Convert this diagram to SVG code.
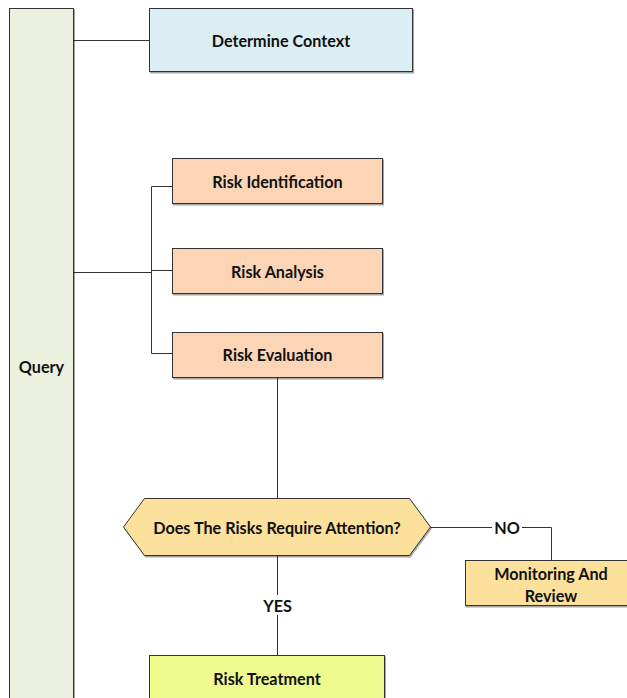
<svg xmlns="http://www.w3.org/2000/svg" width="627" height="698" viewBox="0 0 627 698">
<style>
text{font-family:"Lato","Liberation Sans",sans-serif;font-weight:bold;font-size:16.2px;fill:#111;text-anchor:middle;dominant-baseline:central}
.box{stroke:#333;stroke-width:1}
.conn{fill:none;stroke:#333;stroke-width:1}
.lbl{fill:#fff}
</style>
<defs>
<filter id="sh" x="-5%" y="-5%" width="110%" height="120%">
<feDropShadow dx="1" dy="1.5" stdDeviation="0.6" flood-color="#000" flood-opacity="0.35"/>
</filter>
</defs>
<rect width="627" height="698" fill="#fff"/>
<g id="connectors">
<path class="conn" d="M73.5 40.5H149"/>
<path class="conn" d="M73.5 272.5H151.5"/>
<path class="conn" d="M172 186.5H151.5V353.5H172M151.5 270.5H172"/>
<path class="conn" d="M277.5 377V498"/>
<path class="conn" d="M430 527.5H551.5V560"/>
<path class="conn" d="M277.5 555V655"/>
<rect class="lbl" x="492" y="518" width="30" height="18"/>
<text x="507" y="527">NO</text>
<rect class="lbl" x="260" y="595" width="35" height="20"/>
<text x="277.5" y="605">YES</text>
</g>
<g id="query">
<rect class="box" x="9.5" y="8.5" width="64" height="700" fill="#EBF1DE" filter="url(#sh)"/>
<text x="41.5" y="366">Query</text>
</g>
<g id="determine-context">
<rect class="box" x="149.5" y="8.5" width="263" height="63" fill="#DAEEF3" filter="url(#sh)"/>
<text x="281" y="40">Determine Context</text>
</g>
<g id="risk-identification">
<rect class="box" x="172.5" y="158.5" width="210" height="45" fill="#FBD5B5" filter="url(#sh)"/>
<text x="277.5" y="181">Risk Identification</text>
</g>
<g id="risk-analysis">
<rect class="box" x="172.5" y="248.5" width="210" height="45" fill="#FBD5B5" filter="url(#sh)"/>
<text x="277.5" y="271">Risk Analysis</text>
</g>
<g id="risk-evaluation">
<rect class="box" x="172.5" y="332.5" width="210" height="45" fill="#FBD5B5" filter="url(#sh)"/>
<text x="277.5" y="354">Risk Evaluation</text>
</g>
<g id="decision">
<polygon class="box" points="144.5,498.5 409.5,498.5 430.5,527 409.5,555.5 144.5,555.5 123.5,527" fill="#FCE19C" filter="url(#sh)"/>
<text x="277" y="527">Does The Risks Require Attention?</text>
</g>
<g id="monitoring-review">
<rect class="box" x="465.5" y="560.5" width="170" height="45" fill="#FCE19C" filter="url(#sh)"/>
<text x="551" y="573">Monitoring And</text>
<text x="551" y="595">Review</text>
</g>
<g id="risk-treatment">
<rect class="box" x="149.5" y="655.5" width="235" height="60" fill="#EEFB8E" filter="url(#sh)"/>
<text x="267" y="678">Risk Treatment</text>
</g>
</svg>
